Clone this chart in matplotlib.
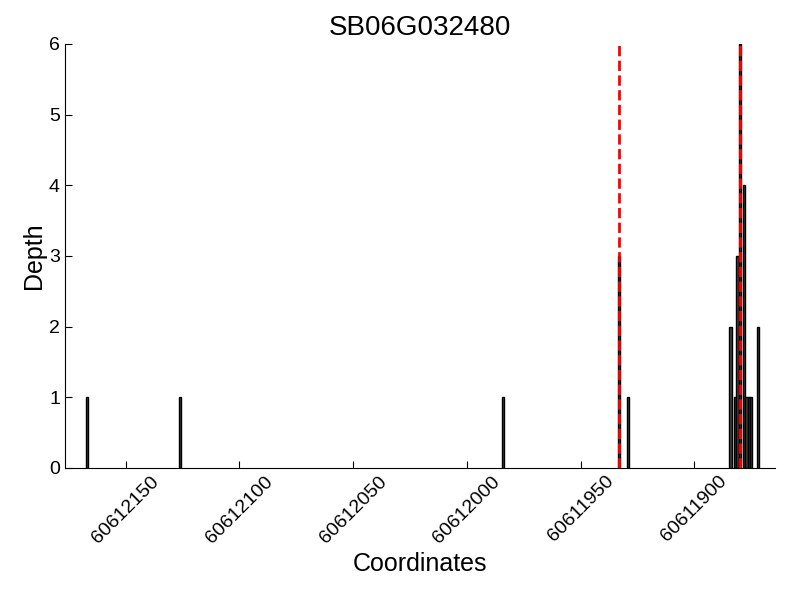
import matplotlib
matplotlib.use("Agg")
import matplotlib.pyplot as plt

plt.rcParams['font.family'] = ['Liberation Sans', 'DejaVu Sans']

title = "SB06G032480"
positions = [60612167, 60612126, 60611984, 60611933, 60611929,
             60611884, 60611882, 60611881, 60611880, 60611878,
             60611877, 60611876, 60611875, 60611872]
depths = [1, 1, 1, 3, 1,
          2, 1, 3, 6, 4,
          1, 1, 1, 2]
marker_positions = [60611933, 60611880]
xticks = [60612150, 60612100, 60612050, 60612000, 60611950, 60611900]
yticks = [0, 1, 2, 3, 4, 5, 6]

fig = plt.figure(figsize=(8, 6), dpi=100)
ax = fig.add_axes([0.081, 0.22, 0.888, 0.707])

ax.bar(positions, depths, width=1.0, color='#404040', edgecolor='black',
       linewidth=1.0, zorder=2)
for m in marker_positions:
    ax.axvline(m, color='red', linestyle='--', linewidth=2, zorder=3)

ax.set_xlim(60612176.8, 60611864.4)
ax.set_ylim(0, 6)
ax.set_xticks(xticks)
ax.set_xticklabels([str(t) for t in xticks], rotation=45, fontsize=14)
ax.set_yticks(yticks)
ax.set_yticklabels([str(t) for t in yticks], fontsize=14)
ax.tick_params(direction='in', length=5, top=False, right=False)
ax.spines['top'].set_visible(False)
ax.spines['right'].set_visible(False)
ax.set_xlabel("Coordinates", fontsize=18)
ax.set_ylabel("Depth", fontsize=18, labelpad=2)
ax.set_title(title, fontsize=20)

fig.savefig("out.png", dpi=100)
